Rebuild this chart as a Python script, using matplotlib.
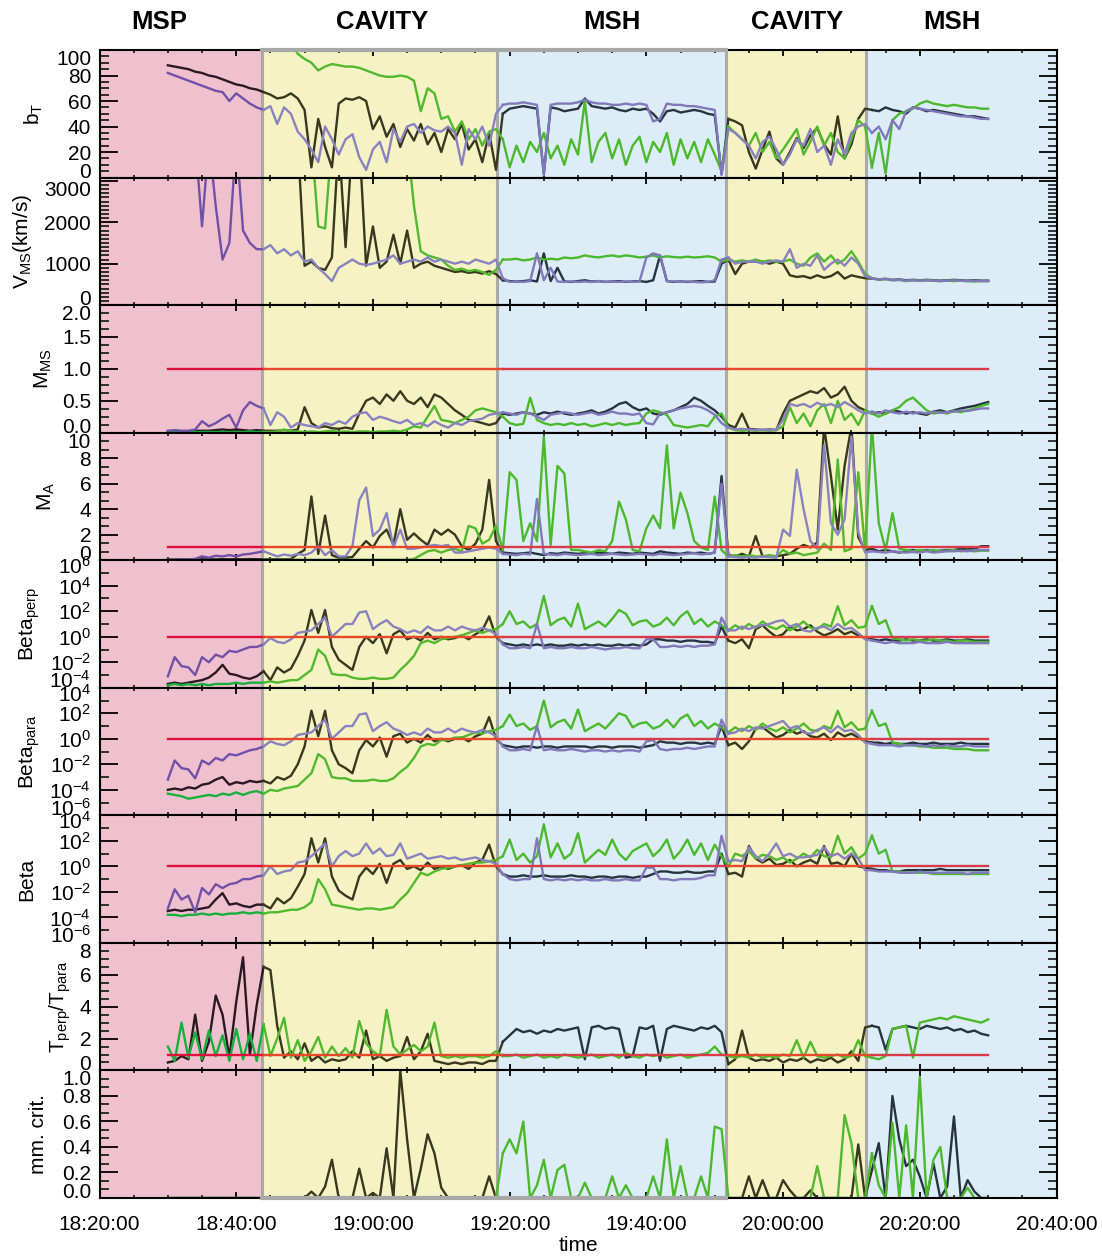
import numpy as np
import matplotlib.pyplot as plt
import matplotlib.transforms as mtransforms
from matplotlib.ticker import FixedLocator, MultipleLocator, FuncFormatter, NullFormatter

plt.rcParams['font.family'] = ['Liberation Sans', 'DejaVu Sans']
plt.rcParams['mathtext.default'] = 'regular'

nan = np.nan

# sample times: minutes after 18:00, one value per minute 18:30 .. 20:30
t = np.arange(30, 151)

# regions (minutes after 18:00)
edges = [20, 43.7, 78.1, 111.6, 132.1, 160]
region_names = ['MSP', 'CAVITY', 'MSH', 'CAVITY', 'MSH']
name_pos = [28.8, 61.3, 95.0, 122.0, 144.7]
bg_colors = ['#efc1cf', '#f5f3c4', '#ddedf7', '#f5f3c4', '#ddedf7']

c_black = ['#2b1822', '#38381e', '#26343f', '#38381e', '#26343f']
c_purple = ['#7250a6', '#8a82c0', '#8078b8', '#8a82c0', '#8078b8']
c_green = ['#18b03c', '#52b82e', '#4cb82c', '#52b82e', '#4cb82c']
c_red = ['#e0103c', '#e8482a', '#d83a48', '#e8482a', '#d83a48']

# ---- b_T ----
bt_k = [88, 87, 86, 85, 83, 82, 80, 79, 77, 75,
        73, 72, 70, 69, 67, 65, 62, 63, 66, 62,
        53, 8, 46, 24, 8, 58, 62, 61, 63, 60,
        38, 48, 32, 42, 24, 38, 29, 42, 26, 35,
        20, 38, 30, 42, 22, 30, 12, 35, 6, 50,
        54, 55, 56, 55, 54, 3, 55, 54, 52, 53,
        54, 62, 56, 55, 54, 55, 53, 52, 54, 53,
        54, 50, 44, 52, 53, 51, 52, 53, 52, 50,
        49, 3, 46, 44, 41, 20, 7, 22, 36, 15,
        10, 20, 31, 23, 33, 39, 26, 18, 48, 15,
        26, 46, 54, 53, 52, 55, 53, 52, 50, 55,
        54, 52, 53, 52, 51, 50, 49, 48, 48, 47,
        46]
bt_p = [82, 80, 78, 76, 74, 72, 70, 68, 67, 60,
        66, 62, 58, 55, 53, 56, 42, 55, 50, 36,
        30, 22, 12, 40, 30, 18, 30, 34, 16, 6,
        22, 28, 12, 38, 28, 40, 42, 35, 40, 37,
        36, 40, 35, 10, 38, 30, 40, 25, 50, 57,
        58, 58, 59, 58, 57, 2, 57, 58, 58, 58,
        59, 61, 59, 58, 58, 57, 57, 58, 57, 58,
        57, 44, 46, 58, 57, 57, 56, 56, 55, 54,
        53, 2, 38, 35, 30, 25, 15, 28, 32, 22,
        10, 18, 30, 25, 38, 20, 25, 10, 30, 18,
        35, 40, 42, 35, 40, 30, 45, 38, 52, 55,
        54, 53, 52, 51, 50, 49, 48, 48, 47, 46,
        46]
bt_g = [nan] * 18 + [106, 97,
        93, 90, 84, 87, 89, 88, 87, 87, 86, 84,
        82, 80, 79, 79, 80, 79, 76, 52, 70, 66,
        46, 48, 36, 44, 30, 38, 25, 36, 38, 30,
        8, 25, 12, 28, 20, 35, 15, 25, 10, 30,
        18, 60, 12, 28, 35, 15, 30, 10, 25, 32,
        12, 28, 20, 35, 10, 30, 15, 28, 12, 30,
        18, 5, 40, 35, 30, 25, 35, 20, 28, 15,
        22, 30, 38, 18, 28, 40, 25, 35, 20, 15,
        30, 45, 40, 8, 35, 3, 45, 50, 52, 54,
        58, 60, 58, 57, 56, 57, 56, 55, 55, 54,
        54]

# ---- V_MS (km/s) ----
v_k = [4000] * 20 + [
       950, 1050, 900, 850, 1150, 4000, 1400, 4000, 4000, 950,
       1900, 900, 1050, 1700, 1000, 1800, 900, 1000, 1050, 950,
       900, 850, 800, 820, 780, 800, 760, 820, 750, 600,
       580, 570, 580, 600, 570, 1250, 580, 900, 570, 560,
       580, 600, 570, 580, 560, 570, 580, 560, 570, 580,
       560, 600, 1200, 580, 560, 570, 560, 570, 580, 560,
       570, 1000, 1100, 750, 1000, 1050, 1050, 1050, 1000, 1050,
       1000, 720, 680, 700, 650, 720, 660, 700, 800, 640,
       720, 680, 650, 640, 620, 630, 610, 620, 600, 610,
       600, 610, 600, 590, 600, 610, 600, 590, 600, 590,
       590]
v_p = [4000, 4000, 4000, 4000, 4000, 1900, 4000, 2400, 1100, 1500,
       4000, 1800, 1500, 1350, 1350, 1450, 1250, 1350, 1200, 1300,
       1050, 1100, 900, 750, 580, 900, 1000, 1100, 1000, 970,
       1000, 1050, 1100, 1200, 1000, 1050, 1100, 1050, 1150, 1050,
       1100, 1050, 1000, 1050, 1000, 1100, 1050, 1000, 1100, 650,
       560, 570, 560, 580, 1250, 600, 900, 570, 560, 570,
       560, 570, 560, 580, 560, 570, 560, 570, 560, 570,
       1150, 1250, 1200, 580, 570, 560, 570, 560, 550, 560,
       600, 1100, 1150, 1000, 1050, 1050, 1050, 1000, 1050, 1080,
       1050, 1350, 900, 1000, 950, 1200, 850, 1000, 1100, 950,
       1150, 1000, 700, 650, 620, 640, 600, 610, 590, 600,
       590, 600, 590, 580, 590, 600, 590, 580, 590, 580,
       580]
v_g = [4000] * 20 + [
       4000, 4000, 1900, 1850, 4000, 4000, 4000, 4000, 4000, 4000,
       4000, 4000, 4000, 4000, 4000, 4000, 2400, 1300, 1200, 1150,
       1100, 950, 850, 880, 820, 850, 800, 730, 850, 1100,
       1100, 1120, 1080, 1100, 1150, 1100, 1120, 1100, 1150, 1130,
       1150, 1200, 1170, 1150, 1180, 1200, 1170, 1200, 1180, 1150,
       1170, 1200, 1150, 1180, 1160, 1150, 1170, 1150, 1160, 1180,
       1150, 1050, 1100, 1050, 1080, 1050, 1100, 1050, 1080, 1050,
       1050, 1100, 1000, 950, 1150, 1250, 1050, 1200, 1000, 1100,
       1300, 1050, 750, 650, 620, 630, 600, 610, 580, 600,
       590, 600, 590, 580, 590, 580, 590, 580, 570, 580,
       580]

# ---- M_MS ----
mms_k = [0.02, 0.02, 0.02, 0.02, 0.03, 0.03, 0.03, 0.04, 0.05, 0.04,
         0.05, 0.04, 0.03, 0.04, 0.03, 0.03, 0.03, 0.04, 0.03, 0.05,
         0.40, 0.15, 0.08, 0.10, 0.07, 0.06, 0.08, 0.06, 0.30, 0.50,
         0.55, 0.45, 0.60, 0.50, 0.65, 0.50, 0.45, 0.55, 0.40, 0.60,
         0.55, 0.45, 0.35, 0.28, 0.20, 0.18, 0.15, 0.12, 0.15, 0.30,
         0.28, 0.30, 0.32, 0.30, 0.28, 0.32, 0.30, 0.33, 0.30, 0.28,
         0.30, 0.32, 0.35, 0.30, 0.33, 0.38, 0.45, 0.48, 0.40, 0.35,
         0.38, 0.30, 0.28, 0.32, 0.35, 0.40, 0.45, 0.55, 0.50, 0.42,
         0.35, 0.25, 0.12, 0.08, 0.30, 0.06, 0.05, 0.04, 0.05, 0.04,
         0.30, 0.50, 0.55, 0.60, 0.65, 0.62, 0.70, 0.55, 0.60, 0.72,
         0.50, 0.40, 0.35, 0.30, 0.32, 0.30, 0.35, 0.33, 0.30, 0.32,
         0.30, 0.28, 0.33, 0.35, 0.32, 0.35, 0.38, 0.40, 0.42, 0.45,
         0.48]
mms_p = [0.03, 0.04, 0.03, 0.03, 0.05, 0.18, 0.10, 0.15, 0.22, 0.28,
         0.08, 0.35, 0.48, 0.42, 0.38, 0.12, 0.32, 0.25, 0.08, 0.15,
         0.12, 0.10, 0.08, 0.15, 0.12, 0.18, 0.14, 0.25, 0.30, 0.32,
         0.20, 0.25, 0.22, 0.18, 0.15, 0.20, 0.12, 0.15, 0.10, 0.18,
         0.12, 0.08, 0.15, 0.12, 0.18, 0.20, 0.22, 0.28, 0.30, 0.32,
         0.30, 0.28, 0.32, 0.30, 0.25, 0.20, 0.28, 0.30, 0.32, 0.30,
         0.28, 0.30, 0.32, 0.28, 0.30, 0.33, 0.30, 0.30, 0.28, 0.30,
         0.15, 0.13, 0.30, 0.32, 0.35, 0.38, 0.40, 0.42, 0.40, 0.35,
         0.28, 0.15, 0.08, 0.05, 0.06, 0.05, 0.04, 0.05, 0.04, 0.05,
         0.20, 0.45, 0.42, 0.45, 0.40, 0.47, 0.42, 0.45, 0.40, 0.48,
         0.42, 0.35, 0.30, 0.33, 0.30, 0.35, 0.32, 0.30, 0.33, 0.30,
         0.32, 0.30, 0.33, 0.31, 0.32, 0.33, 0.35, 0.34, 0.36, 0.38,
         0.38]
mms_g = [0.01] * 10 + [
         0.01, 0.01, 0.02, 0.01, 0.01, 0.01, 0.02, 0.05, 0.02, 0.02,
         0.01, 0.02, 0.01, 0.02, 0.03, 0.01, 0.02, 0.01, 0.02, 0.02,
         0.01, 0.02, 0.02, 0.03, 0.02, 0.05, 0.10, 0.08, 0.25, 0.42,
         0.20, 0.18, 0.15, 0.20, 0.25, 0.35, 0.38, 0.35, 0.32, 0.25,
         0.15, 0.12, 0.14, 0.55, 0.20, 0.15, 0.12, 0.14, 0.12, 0.15,
         0.12, 0.14, 0.10, 0.12, 0.15, 0.12, 0.15, 0.12, 0.14, 0.15,
         0.30, 0.35, 0.32, 0.28, 0.12, 0.10, 0.08, 0.10, 0.12, 0.10,
         0.25, 0.30, 0.08, 0.04, 0.03, 0.04, 0.03, 0.04, 0.03, 0.04,
         0.10, 0.40, 0.15, 0.30, 0.10, 0.35, 0.45, 0.15, 0.50, 0.20,
         0.30, 0.12, 0.35, 0.30, 0.25, 0.30, 0.35, 0.40, 0.50, 0.55,
         0.45, 0.35, 0.30, 0.32, 0.30, 0.34, 0.32, 0.35, 0.38, 0.42,
         0.45]

# ---- M_A ----
ma_k = [0.05, 0.05, 0.06, 0.05, 0.06, 0.08, 0.06, 0.07, 0.08, 0.07,
        0.08, 0.07, 0.09, 0.08, 0.07, 0.08, 0.08, 0.07, 0.09, 0.5,
        0.8, 5.0, 0.5, 3.5, 0.4, 0.2, 0.2, 0.25, 0.9, 1.5,
        1.0, 1.9, 2.4, 1.2, 4.0, 1.6, 2.1, 1.6, 1.2, 2.4,
        2.0, 2.4, 2.0, 1.1, 0.8, 1.3, 2.4, 6.3, 1.5, 0.6,
        0.55, 0.5, 0.55, 0.6, 0.5, 0.4, 0.55, 0.5, 0.6, 0.55,
        0.5, 0.55, 0.5, 0.6, 0.55, 0.5, 0.6, 0.55, 0.5, 0.6,
        0.55, 0.5, 0.7, 0.6, 0.55, 0.5, 0.6, 0.55, 0.6, 0.5,
        0.6, 6.6, 0.4, 0.3, 0.5, 0.3, 1.9, 0.3, 0.3, 0.3,
        0.4, 0.5, 0.9, 1.2, 1.0, 1.4, 10.5, 6.6, 2.4, 7.4,
        10.5, 1.8, 0.8, 0.9, 0.7, 0.8, 0.7, 0.6, 0.7, 0.8,
        0.7, 0.8, 0.7, 0.75, 0.8, 0.8, 0.9, 0.85, 0.9, 1.1,
        1.1]
ma_p = [0.05, 0.05, 0.05, 0.06, 0.1, 0.3, 0.2, 0.35, 0.3, 0.4,
        0.3, 0.45, 0.5, 0.6, 0.7, 0.5, 0.3, 0.45, 0.35, 0.5,
        0.4, 0.6, 1.1, 0.4, 0.8, 0.3, 0.3, 1.1, 4.7, 5.7,
        1.9, 2.4, 3.7, 1.0, 2.4, 0.9, 0.9, 1.0, 1.1, 1.2,
        1.1, 1.2, 0.6, 0.6, 0.7, 0.8, 0.9, 1.0, 0.9, 0.5,
        0.45, 0.4, 0.5, 0.45, 4.8, 0.5, 0.45, 0.4, 0.5, 0.45,
        0.4, 0.45, 0.5, 0.4, 0.45, 0.5, 0.45, 0.4, 0.45, 0.5,
        0.45, 0.4, 0.5, 0.45, 0.4, 0.45, 0.5, 0.55, 0.45, 0.5,
        0.6, 6.0, 0.3, 0.25, 0.2, 0.25, 0.2, 0.3, 0.25, 0.2,
        2.4, 1.9, 7.1, 4.0, 1.5, 0.9, 9.0, 2.9, 2.0, 3.2,
        9.7, 2.2, 0.6, 0.7, 0.65, 0.6, 0.7, 0.65, 0.6, 0.65,
        0.6, 0.7, 0.6, 0.65, 0.7, 0.7, 0.75, 0.7, 0.8, 0.8,
        0.8]
ma_g = [0.03] * 36 + [0.1, 0.4, 0.7, 0.8,
        0.6, 0.8, 0.9, 0.7, 2.7, 2.5, 1.3, 1.6, 2.7, 0.8,
        6.9, 6.3, 1.5, 2.9, 1.5, 9.7, 1.2, 7.4, 6.8, 0.8,
        0.8, 0.7, 0.6, 0.8, 0.7, 1.5, 4.6, 3.2, 0.8, 0.7,
        2.5, 3.5, 2.5, 9.0, 2.5, 5.3, 3.7, 1.5, 1.0, 0.8,
        5.0, 0.8, 0.3, 0.4, 0.3, 0.4, 0.3, 0.3, 0.4, 0.3,
        0.8, 0.5, 0.6, 0.4, 0.5, 0.6, 1.3, 0.8, 7.9, 0.7,
        0.9, 6.9, 0.8, 10.5, 2.9, 0.8, 3.7, 0.9, 0.8, 0.7,
        0.8, 0.75, 0.8, 0.7, 0.75, 0.8, 0.7, 0.75, 0.7, 0.75,
        0.75]

# ---- Beta_perp (log10) ----
bperp_k = [-3.7, -3.6, -3.7, -3.6, -3.5, -3.4, -3.2, -2.8, -2.2, -2.9,
           -3.0, -3.2, -3.3, -3.1, -2.7, -3.4, -2.4, -2.8, -2.5, -1.5,
           -0.3, 2.1, 0.3, 2.1, -0.8, -1.8, -2.2, -2.6, -0.8, 0.0,
           -0.5, 0.2, -1.3, 0.2, 0.5, -0.2, 0.0, -0.3, 0.3, -0.2,
           0.0, -0.2, -0.1, 0.1, -0.2, 0.2, 0.5, 1.6, 0.0, -0.5,
           -0.6, -0.7, -0.6, -0.7, -0.6, -0.7, -0.6, -0.7, -0.7, -0.6,
           -0.7, -0.6, -0.7, -0.6, -0.7, -0.7, -0.6, -0.7, -0.6, -0.7,
           -0.6, -0.2, -0.2, -0.3, -0.3, -0.4, -0.3, -0.3, -0.4, -0.4,
           -0.5, 0.8, -0.3, -0.5, -0.2, -0.9, 0.6, 0.9, 0.4, 0.0,
           0.2, 0.8, 0.5, 0.6, 0.9, 0.4, 0.1, 0.3, 0.6, 0.2,
           0.4, 0.1, -0.1, -0.2, -0.3, -0.2, -0.3, -0.3, -0.2, -0.3,
           -0.3, -0.2, -0.3, -0.3, -0.2, -0.3, -0.3, -0.2, -0.3, -0.3,
           -0.3]
bperp_p = [-3.1, -1.6, -2.3, -2.4, -3.0, -1.6, -2.0, -1.4, -1.6, -1.1,
           -1.2, -1.0, -0.8, -0.8, -0.6, -0.1, -0.4, -0.5, -0.2, 0.3,
           0.4, 0.5, 1.0, 1.5, 0.0, 0.5, 1.0, 1.0, 1.9, 2.0,
           0.6, 1.0, 1.3, 0.8, 0.6, 0.3, 0.5, 0.3, 0.8, 0.5,
           0.5, 0.8, 0.5, 0.8, 0.6, 0.5, 0.7, 0.5, 0.2, -0.6,
           -0.9, -0.9, -0.8, -0.9, 1.0, -0.9, -0.8, -0.9, -0.9, -0.8,
           -0.9, -0.9, -0.8, -0.9, -1.0, -0.9, -0.9, -0.8, -0.9, -0.9,
           -0.2, -0.2, -0.8, -0.8, -0.7, -0.8, -0.7, -0.8, -0.7, -0.7,
           -0.6, 1.5, 0.5, 0.5, 0.8, 0.6, 0.8, 0.9, 1.0, 1.2,
           1.3, 0.8, 1.0, 0.5, 0.4, 0.7, 0.8, 0.5, 1.0, 0.6,
           0.7, 0.3, -0.2, -0.3, -0.4, -0.5, -0.4, -0.5, -0.5, -0.5,
           -0.4, -0.5, -0.5, -0.5, -0.4, -0.5, -0.5, -0.5, -0.5, -0.5,
           -0.5]
bperp_g = [-3.8, -3.7, -3.8, -3.7, -3.8, -3.7, -3.8, -3.7, -3.7, -3.7,
           -3.6, -3.7, -3.6, -3.6, -3.6, -3.5, -3.6, -3.5, -3.4, -3.4,
           -3.0, -2.6, -1.0, -1.5, -2.9, -3.0, -3.0, -3.2, -3.3, -3.3,
           -3.2, -3.3, -3.3, -3.2, -2.6, -2.1, -1.5, -0.5, -0.3, -0.5,
           -0.2, -0.1, 0.0, 0.1, 0.3, 0.5, 0.3, 0.5, 0.6, 1.0,
           2.0, 1.0, 1.2, 0.7, 1.0, 3.2, 0.9, 1.3, 1.5, 0.8,
           2.6, 0.6, 0.9, 1.2, 0.8, 1.4, 2.1, 1.8, 0.9, 1.2,
           1.3, 0.8, 1.0, 1.5, 0.9, 1.6, 2.0, 1.0, 1.4, 0.8,
           1.2, 0.9, 0.5, 0.9, 0.6, 1.0, 0.7, 1.2, 0.8, 0.6,
           0.9, 0.5, 0.8, 1.2, 0.7, 0.6, 1.0, 0.8, 2.4, 0.9,
           1.3, 0.7, 0.8, 2.4, 1.0, 1.3, -0.1, -0.2, -0.3, -0.2,
           -0.3, -0.3, -0.2, -0.3, -0.3, -0.4, -0.3, -0.3, -0.4, -0.4,
           -0.4]

# ---- Beta_para (log10) ----
bpar_k = [-4.0, -3.9, -4.0, -3.8, -3.9, -3.6, -3.5, -3.2, -3.0, -3.6,
          -3.4, -3.5, -3.3, -3.4, -3.3, -3.5, -3.0, -3.2, -2.9, -2.0,
          -0.6, 2.2, 0.2, 2.2, -0.9, -2.0, -2.3, -2.7, -0.9, -0.1,
          -0.6, 0.1, -1.4, 0.2, 0.4, -0.3, 0.0, -0.3, 0.3, -0.2,
          0.0, -0.2, 0.0, 0.1, -0.2, 0.2, 0.4, 1.7, 0.0, -0.5,
          -0.6, -0.7, -0.6, -0.6, -0.7, -0.6, -0.6, -0.7, -0.6, -0.6,
          -0.6, -0.6, -0.7, -0.6, -0.6, -0.7, -0.6, -0.6, -0.6, -0.7,
          -0.6, -0.5, -0.2, -0.3, -0.3, -0.4, -0.3, -0.3, -0.4, -0.3,
          -0.4, 1.0, -0.5, -0.3, -0.8, -0.2, 0.8, 0.9, 0.5, 0.1,
          0.3, 0.7, 0.4, 0.6, 0.2, 0.1, 0.4, -0.1, 0.5, 0.2,
          0.4, 0.1, -0.2, -0.3, -0.3, -0.4, -0.3, -0.4, -0.4, -0.3,
          -0.4, -0.4, -0.3, -0.4, -0.4, -0.4, -0.3, -0.4, -0.4, -0.4,
          -0.4]
bpar_p = [-3.2, -1.7, -2.3, -2.4, -3.1, -1.7, -2.0, -1.5, -1.7, -1.2,
          -1.3, -1.1, -0.9, -0.8, -0.6, -0.2, -0.4, -0.5, -0.2, 0.3,
          0.4, 0.5, 1.0, 1.5, 0.0, 0.5, 1.0, 1.0, 1.9, 2.0,
          0.6, 1.0, 1.3, 0.8, 0.6, 0.3, 0.5, 0.3, 0.8, 0.5,
          0.5, 0.8, 0.5, 0.8, 0.6, 0.5, 0.7, 0.5, 0.2, -0.6,
          -0.9, -0.9, -0.8, -0.9, 1.0, -0.9, -0.8, -0.9, -0.9, -0.8,
          -0.9, -1.0, -0.9, -0.9, -1.0, -0.9, -1.0, -0.9, -0.9, -1.0,
          -0.2, -0.1, -0.8, -0.9, -0.8, -0.8, -0.7, -0.8, -0.7, -0.6,
          -0.6, 1.5, 0.4, 0.5, 0.8, 0.6, 0.9, 0.8, 1.0, 1.2,
          1.4, 0.8, 1.0, 0.5, 0.4, 0.7, 0.9, 0.5, 1.0, 0.6,
          0.7, 0.3, -0.3, -0.4, -0.5, -0.5, -0.5, -0.6, -0.5, -0.5,
          -0.5, -0.6, -0.5, -0.6, -0.5, -0.6, -0.6, -0.5, -0.6, -0.6,
          -0.6]
bpar_g = [-4.3, -4.4, -4.5, -4.7, -4.6, -4.5, -4.4, -4.5, -4.3, -4.4,
          -4.2, -4.4, -4.2, -4.1, -4.3, -4.0, -4.1, -3.9, -3.8, -3.7,
          -3.2, -2.7, -1.2, -1.6, -3.0, -3.1, -3.1, -3.3, -3.3, -3.3,
          -3.2, -3.3, -3.3, -3.1, -2.6, -2.2, -1.5, -0.6, -0.4, -0.5,
          -0.1, -0.1, 0.1, 0.1, 0.3, 0.5, 0.4, 0.6, 0.7, 1.0,
          1.9, 1.0, 1.2, 0.7, 1.0, 3.0, 0.9, 1.3, 1.5, 0.8,
          2.3, 0.6, 0.9, 1.2, 0.8, 1.4, 2.0, 1.8, 0.9, 1.2,
          1.3, 0.8, 1.0, 1.5, 0.9, 1.6, 1.9, 1.0, 1.4, 0.8,
          1.2, 0.9, 0.5, 0.9, 0.6, 1.0, 0.7, 1.2, 0.8, 0.6,
          0.9, 0.5, 0.8, 1.2, 0.7, 0.6, 1.0, 0.8, 2.2, 0.9,
          1.3, 0.7, 0.8, 2.2, 1.0, 1.2, -0.3, -0.4, -0.5, -0.5,
          -0.6, -0.6, -0.7, -0.7, -0.7, -0.8, -0.8, -0.8, -0.9, -0.9,
          -0.9]

# ---- Beta (log10) ----
beta_k = [-3.5, -3.4, -3.5, -3.4, -3.4, -3.3, -3.2, -2.6, -2.1, -3.0,
          -2.9, -3.1, -3.2, -3.0, -3.0, -3.3, -2.5, -2.9, -2.5, -1.6,
          -0.6, 2.2, 0.3, 2.2, -0.8, -1.9, -2.3, -2.6, -0.8, -0.1,
          -0.6, 0.2, -1.3, 0.2, 0.5, -0.2, 0.0, -0.3, 0.3, -0.2,
          0.0, -0.2, 0.0, 0.1, -0.2, 0.3, 0.5, 1.7, 0.0, -0.6,
          -0.8, -0.8, -0.7, -0.8, -0.8, -0.7, -0.8, -0.8, -0.8, -0.7,
          -0.8, -0.8, -0.9, -0.8, -0.8, -0.9, -0.8, -0.8, -0.9, -0.8,
          -0.8, -0.6, -0.4, -0.4, -0.5, -0.5, -0.4, -0.5, -0.5, -0.4,
          -0.4, 1.0, -0.6, -0.5, -0.8, 1.6, 0.6, 0.3, 0.6, 0.1,
          0.2, 0.5, 0.0, 0.3, 0.5, 0.2, 1.6, 0.2, 0.3, 0.0,
          1.0, 0.0, -0.1, -0.2, -0.3, -0.3, -0.4, -0.4, -0.3, -0.3,
          -0.3, -0.3, -0.3, -0.2, -0.3, -0.3, -0.3, -0.3, -0.3, -0.3,
          -0.3]
beta_p = [-3.3, -1.8, -2.6, -2.3, -3.6, -1.7, -2.2, -1.4, -1.7, -1.4,
          -1.3, -1.0, -1.0, -0.8, -0.7, 0.0, -0.6, -0.4, -0.3, 0.3,
          0.4, 0.8, 1.3, 1.8, 0.0, 0.8, 1.2, 0.8, 1.0, 1.8,
          1.0, 1.4, 0.8, 0.9, 1.8, 0.6, 0.8, 1.0, 0.6, 0.7,
          0.8, 0.6, 0.7, 0.5, 0.6, 0.7, 0.5, 0.4, 0.2, -0.6,
          -1.0, -1.1, -1.0, -1.0, 2.2, -1.0, -1.1, -1.0, -1.1, -1.0,
          -1.1, -1.0, -1.1, -1.1, -1.0, -1.1, -1.1, -1.0, -1.1, -1.1,
          -0.1, -0.1, -1.0, -1.0, -1.1, -1.0, -1.0, -1.0, -0.9, -0.7,
          -0.7, 2.4, 0.4, 0.5, 0.4, 1.5, 0.8, 0.4, 1.0, 1.8,
          0.8, 1.0, 0.7, 0.7, 0.8, 0.9, 1.5, 0.8, 1.0, 0.6,
          1.0, 0.6, -0.3, -0.3, -0.4, -0.4, -0.4, -0.5, -0.5, -0.5,
          -0.4, -0.5, -0.5, -0.5, -0.5, -0.5, -0.5, -0.6, -0.5, -0.5,
          -0.5]
beta_g = [-3.8, -3.8, -3.9, -3.8, -3.8, -3.7, -3.8, -3.7, -3.8, -3.7,
          -3.7, -3.6, -3.7, -3.6, -3.7, -3.6, -3.6, -3.5, -3.4, -3.4,
          -3.2, -2.8, -1.0, -1.8, -3.0, -3.1, -3.2, -3.3, -3.4, -3.3,
          -3.3, -3.4, -3.3, -3.2, -2.6, -2.1, -1.3, -0.5, -0.7, -0.4,
          -0.2, -0.1, 0.0, 0.1, 0.2, 0.3, 0.3, 0.4, 0.5, 0.8,
          2.1, 0.5, 1.0, 0.3, 0.8, 3.3, 0.7, 1.8, 0.6, 1.0,
          2.6, 0.3, 0.8, 1.3, 0.9, 2.1, 1.0, 0.5, 1.2, 1.5,
          1.8, 0.8, 1.3, 2.1, 0.6, 1.2, 2.1, 0.9, 1.8, 0.5,
          1.7, 0.8, 0.0, 1.0, 0.8, 1.2, 0.6, 0.9, 0.8, 0.5,
          0.7, 0.3, 0.6, 1.0, 0.7, 1.3, 0.8, 0.7, 2.4, 1.0,
          1.5, 0.6, 1.0, 2.4, 1.0, 1.3, -0.4, -0.4, -0.5, -0.5,
          -0.5, -0.5, -0.6, -0.6, -0.6, -0.6, -0.6, -0.6, -0.6, -0.6,
          -0.6]

# ---- T_perp / T_para ----
tr_k = [0.5, 0.6, 0.9, 0.7, 3.5, 0.6, 1.8, 4.7, 3.5, 0.8,
        4.3, 7.1, 1.0, 4.1, 6.5, 6.3, 2.8, 0.8, 1.2, 0.7,
        1.7, 0.6, 0.9, 0.5, 0.7, 0.6, 0.7, 1.2, 0.8, 2.5,
        0.7, 0.9, 0.6, 0.8, 0.9, 2.1, 0.7, 1.2, 2.3, 0.6,
        0.5, 0.4, 0.5, 0.4, 0.5, 0.5, 0.4, 0.6, 0.6, 1.8,
        2.2, 2.6, 2.4, 2.5, 2.3, 2.5, 2.4, 2.6, 2.5, 2.6,
        2.7, 0.7, 2.7, 2.8, 2.6, 2.7, 2.6, 0.8, 0.9, 2.7,
        2.6, 2.8, 0.6, 2.6, 2.8, 2.7, 2.6, 2.5, 2.7, 2.6,
        2.8, 2.4, 0.4, 0.7, 2.5, 0.8, 0.6, 0.7, 0.6, 0.8,
        0.5, 0.7, 0.6, 0.8, 0.5, 0.7, 0.6, 0.8, 0.5, 0.7,
        1.2, 0.6, 2.7, 2.8, 2.7, 1.3, 2.6, 2.7, 2.8, 2.7,
        2.6, 2.8, 2.7, 2.6, 2.7, 2.5, 2.6, 2.4, 2.5, 2.3,
        2.2]
tr_g = [1.5, 0.6, 3.0, 0.8, 2.4, 0.7, 2.5, 0.9, 2.2, 0.6,
        2.6, 0.7, 2.3, 0.6, 2.9, 0.9, 2.0, 3.3, 0.8, 1.9,
        0.6, 1.2, 2.1, 0.8, 1.5, 0.9, 1.4, 0.8, 3.1, 1.7,
        1.2, 0.9, 3.8, 1.5, 1.0, 1.3, 1.6, 1.2, 1.5, 3.0,
        0.9, 0.8, 0.9, 0.8, 0.9, 0.9, 0.8, 0.9, 1.2, 0.9,
        0.9, 1.0, 0.8, 0.9, 1.0, 0.8, 0.9, 0.8, 1.0, 0.9,
        0.8, 0.9, 1.0, 0.8, 0.9, 1.0, 0.8, 1.1, 0.9, 0.8,
        1.0, 0.9, 1.0, 0.8, 0.9, 1.0, 0.8, 0.9, 1.0, 1.1,
        1.5, 1.0, 0.9, 0.8, 0.9, 0.8, 1.0, 0.8, 0.9, 0.8,
        1.0, 0.9, 1.9, 0.8, 1.8, 0.9, 0.8, 0.9, 1.0, 0.8,
        0.9, 1.9, 0.9, 0.8, 0.7, 0.9, 2.6, 2.7, 2.8, 0.8,
        3.0, 3.1, 3.2, 3.3, 3.2, 3.4, 3.3, 3.2, 3.1, 3.0,
        3.2]

# ---- mm. crit. ----
mm_k = [0] * 20 + [
        0, 0.05, 0, 0.09, 0.3, 0, 0, 0, 0.23, 0,
        0.04, 0, 0.39, 0, 1.0, 0.46, 0, 0.23, 0.5, 0.35,
        0.08, 0, 0, 0, 0, 0, 0, 0.17, 0, 0] + [0] * 30 + [
        0, 0, 0, 0, 0, 0.17, 0, 0.14, 0, 0,
        0.14, 0.06, 0, 0, 0.06, 0, 0, 0, 0, 0,
        0, 0.42, 0, 0.22, 0.43, 0, 0.8, 0.46, 0.25, 0.3,
        0.17, 0, 0.27, 0, 0.09, 0.64, 0, 0.14, 0.05, 0,
        0]
mm_g = [0] * 49 + [0.35,
        0.46, 0.35, 0.6, 0.0, 0.1, 0.3, 0.0, 0.22, 0.26, 0.0,
        0.0, 0.12, 0, 0, 0, 0.17, 0, 0.1, 0, 0,
        0, 0.17, 0, 0.46, 0, 0.25, 0, 0, 0.17, 0,
        0.56, 0.54, 0, 0, 0, 0, 0, 0, 0, 0,
        0, 0, 0, 0, 0, 0.25, 0, 0, 0, 0.65,
        0.43, 0, 0, 0.35, 0.1, 0, 0.59, 0, 0.57, 0,
        0.95, 0, 0.3, 0.4, 0, 0, 0, 0.08, 0, 0,
        0]

# ---- axis ticks of each panel ----
yt_bt = [0, 20, 40, 60, 80, 100]
yt_v = [0, 1000, 2000, 3000]
yt_mms = [0.0, 0.5, 1.0, 1.5, 2.0]
yt_ma = [0, 2, 4, 6, 8, 10]
yt_tr = [0, 2, 4, 6, 8]
yt_mm = [0.0, 0.2, 0.4, 0.6, 0.8, 1.0]


def draw(ax, y, cols, lw=1.7, z=2):
    y = np.asarray(y, dtype=float)
    assert y.size == t.size, y.size
    for i in range(5):
        idx = np.where((t >= edges[i]) & (t < edges[i + 1]))[0]
        if idx.size == 0:
            continue
        if idx[-1] + 1 < t.size:
            idx = np.append(idx, idx[-1] + 1)
        ax.plot(t[idx], y[idx], color=cols[i], lw=lw, zorder=z)


def hms(v, pos):
    v = int(round(v))
    return f"{18 + v // 60}:{v % 60:02d}:00"


def pow10(v, pos):
    return rf'$10^{{{int(round(np.log10(v)))}}}$'


W, H = 1102.0, 1257.0
x0, x1 = 99.5, 1056.5
ytop, ybot = 50.0, 1198.0
ph = (ybot - ytop) / 9

fig = plt.figure(figsize=(W / 100, H / 100), dpi=100)
axes = []
for k in range(9):
    rect = [x0 / W, 1 - (ytop + (k + 1) * ph) / H, (x1 - x0) / W, ph / H]
    ax = fig.add_axes(rect, sharex=axes[0] if axes else None)
    axes.append(ax)

ylabels = [r'$b_T$', r'$V_{MS}$(km/s)', r'$M_{MS}$', r'$M_A$', r'Beta$_{perp}$',
           r'Beta$_{para}$', 'Beta', r'T$_{perp}$/T$_{para}$', 'mm. crit.']
ylabel_px = [34, 22, 43, 46, 30, 30, 27, 60, 38]

series = [
    (bt_k, bt_g, bt_p),
    (v_k, v_g, v_p),
    (mms_k, mms_g, mms_p),
    (ma_k, ma_g, ma_p),
    (10 ** np.array(bperp_k), 10 ** np.array(bperp_g), 10 ** np.array(bperp_p)),
    (10 ** np.array(bpar_k), 10 ** np.array(bpar_g), 10 ** np.array(bpar_p)),
    (10 ** np.array(beta_k), 10 ** np.array(beta_g), 10 ** np.array(beta_p)),
    (tr_k, tr_g, None),
    (mm_k, mm_g, None),
]
red_panels = [2, 3, 4, 5, 6, 7]

for k, ax in enumerate(axes):
    ax.set_xlim(20, 160)
    for i in range(5):
        ax.axvspan(edges[i], edges[i + 1], color=bg_colors[i], lw=0, zorder=0)
    for e in edges[1:5]:
        ax.axvline(e, color='#9a9a9a', lw=2.2, alpha=0.8, zorder=1)

    yk, yg, yp = series[k]
    draw(ax, yk, c_black, z=2)
    draw(ax, yg, c_green, z=3)
    if yp is not None:
        draw(ax, yp, c_purple, z=4)
    if k in red_panels:
        draw(ax, np.ones(t.size), c_red, lw=1.7, z=6)

    for s in ax.spines.values():
        s.set_linewidth(1.5)
        s.set_zorder(7)

    ax.xaxis.set_major_locator(MultipleLocator(20))
    ax.xaxis.set_minor_locator(MultipleLocator(5))
    ax.tick_params(which='both', direction='in', top=True, right=True)
    ax.tick_params(axis='y', which='major', length=13, width=1.3, labelsize=15, pad=6)
    ax.tick_params(axis='y', which='minor', length=6.5, width=1.1)
    ax.tick_params(axis='x', which='major', length=4, width=1.3, labelsize=15, pad=12)
    ax.tick_params(axis='x', which='minor', length=2.2, width=1.1)
    if k < 8:
        ax.tick_params(axis='x', labelbottom=False)

    ax.set_ylabel(ylabels[k], fontsize=15)
    ax.yaxis.set_label_coords((ylabel_px[k] - x0) / (x1 - x0), 0.5)
    ax.yaxis.label.set_va('center')

axes[-1].xaxis.set_major_formatter(FuncFormatter(hms))
axes[-1].set_xlabel('time', fontsize=15, labelpad=2)

# y scales
axes[0].set_ylim(0, 100)
axes[0].yaxis.set_major_locator(FixedLocator(yt_bt))
axes[0].yaxis.set_minor_locator(MultipleLocator(5))

axes[1].set_ylim(0, 3080)
axes[1].yaxis.set_major_locator(FixedLocator(yt_v))
axes[1].yaxis.set_minor_locator(MultipleLocator(100))

axes[2].set_ylim(0, 2)
axes[2].yaxis.set_major_locator(FixedLocator(yt_mms))
axes[2].yaxis.set_minor_locator(MultipleLocator(0.125))
axes[2].yaxis.set_major_formatter(FuncFormatter(lambda v, p: f'{v:.1f}'))

axes[3].set_ylim(0, 10)
axes[3].yaxis.set_major_locator(FixedLocator(yt_ma))
axes[3].yaxis.set_minor_locator(MultipleLocator(2 / 3))

log_lims = [(1e-4, 1e6), (1e-6, 1e4), (1e-6, 1e4)]
for ax, (lo, hi) in zip(axes[4:7], log_lims):
    ax.set_yscale('log')
    ax.set_ylim(lo, hi)
    e0, e1 = int(np.log10(lo)), int(np.log10(hi))
    ax.yaxis.set_major_locator(FixedLocator([10.0 ** e for e in range(e0, e1 + 1, 2)]))
    ax.yaxis.set_minor_locator(FixedLocator([10.0 ** e for e in range(e0 + 1, e1, 2)]))
    ax.yaxis.set_major_formatter(FuncFormatter(pow10))
    ax.yaxis.set_minor_formatter(NullFormatter())

axes[7].set_ylim(0, 8)
axes[7].yaxis.set_major_locator(FixedLocator(yt_tr))
axes[7].yaxis.set_minor_locator(MultipleLocator(0.5))

axes[8].set_ylim(0, 1)
axes[8].yaxis.set_major_locator(FixedLocator(yt_mm))
axes[8].yaxis.set_minor_locator(MultipleLocator(0.2 / 3))
axes[8].yaxis.set_major_formatter(FuncFormatter(lambda v, p: f'{v:.1f}'))

# edge labels pushed inside their panel, as in the original
shift_down = mtransforms.ScaledTranslation(0, -5 / 100, fig.dpi_scale_trans)
for k, ax in enumerate(axes):
    ticks = ax.yaxis.get_major_ticks()
    ticks[0].label1.set_va('baseline')
    if 4 <= k <= 6:
        lab = ticks[-1].label1
        lab.set_transform(lab.get_transform() + shift_down)
    else:
        ticks[-1].label1.set_va('top')

# region names above the top panel
top = axes[0]
trans = mtransforms.blended_transform_factory(top.transData, top.transAxes)
for name, x in zip(region_names, name_pos):
    top.text(x, 1.22, name, transform=trans, ha='center', va='center',
             fontsize=18.5, fontweight='bold')

# grey outline of the cavity / sheath box
top.plot([edges[1], edges[3]], [1, 1], transform=trans, color='#a8a8a8',
         lw=3, clip_on=False, zorder=8)
bt = mtransforms.blended_transform_factory(axes[-1].transData, axes[-1].transAxes)
axes[-1].plot([edges[1], edges[3]], [0, 0], transform=bt, color='#a8a8a8',
              lw=3, clip_on=False, zorder=8)

fig.savefig('out.png', dpi=100)
